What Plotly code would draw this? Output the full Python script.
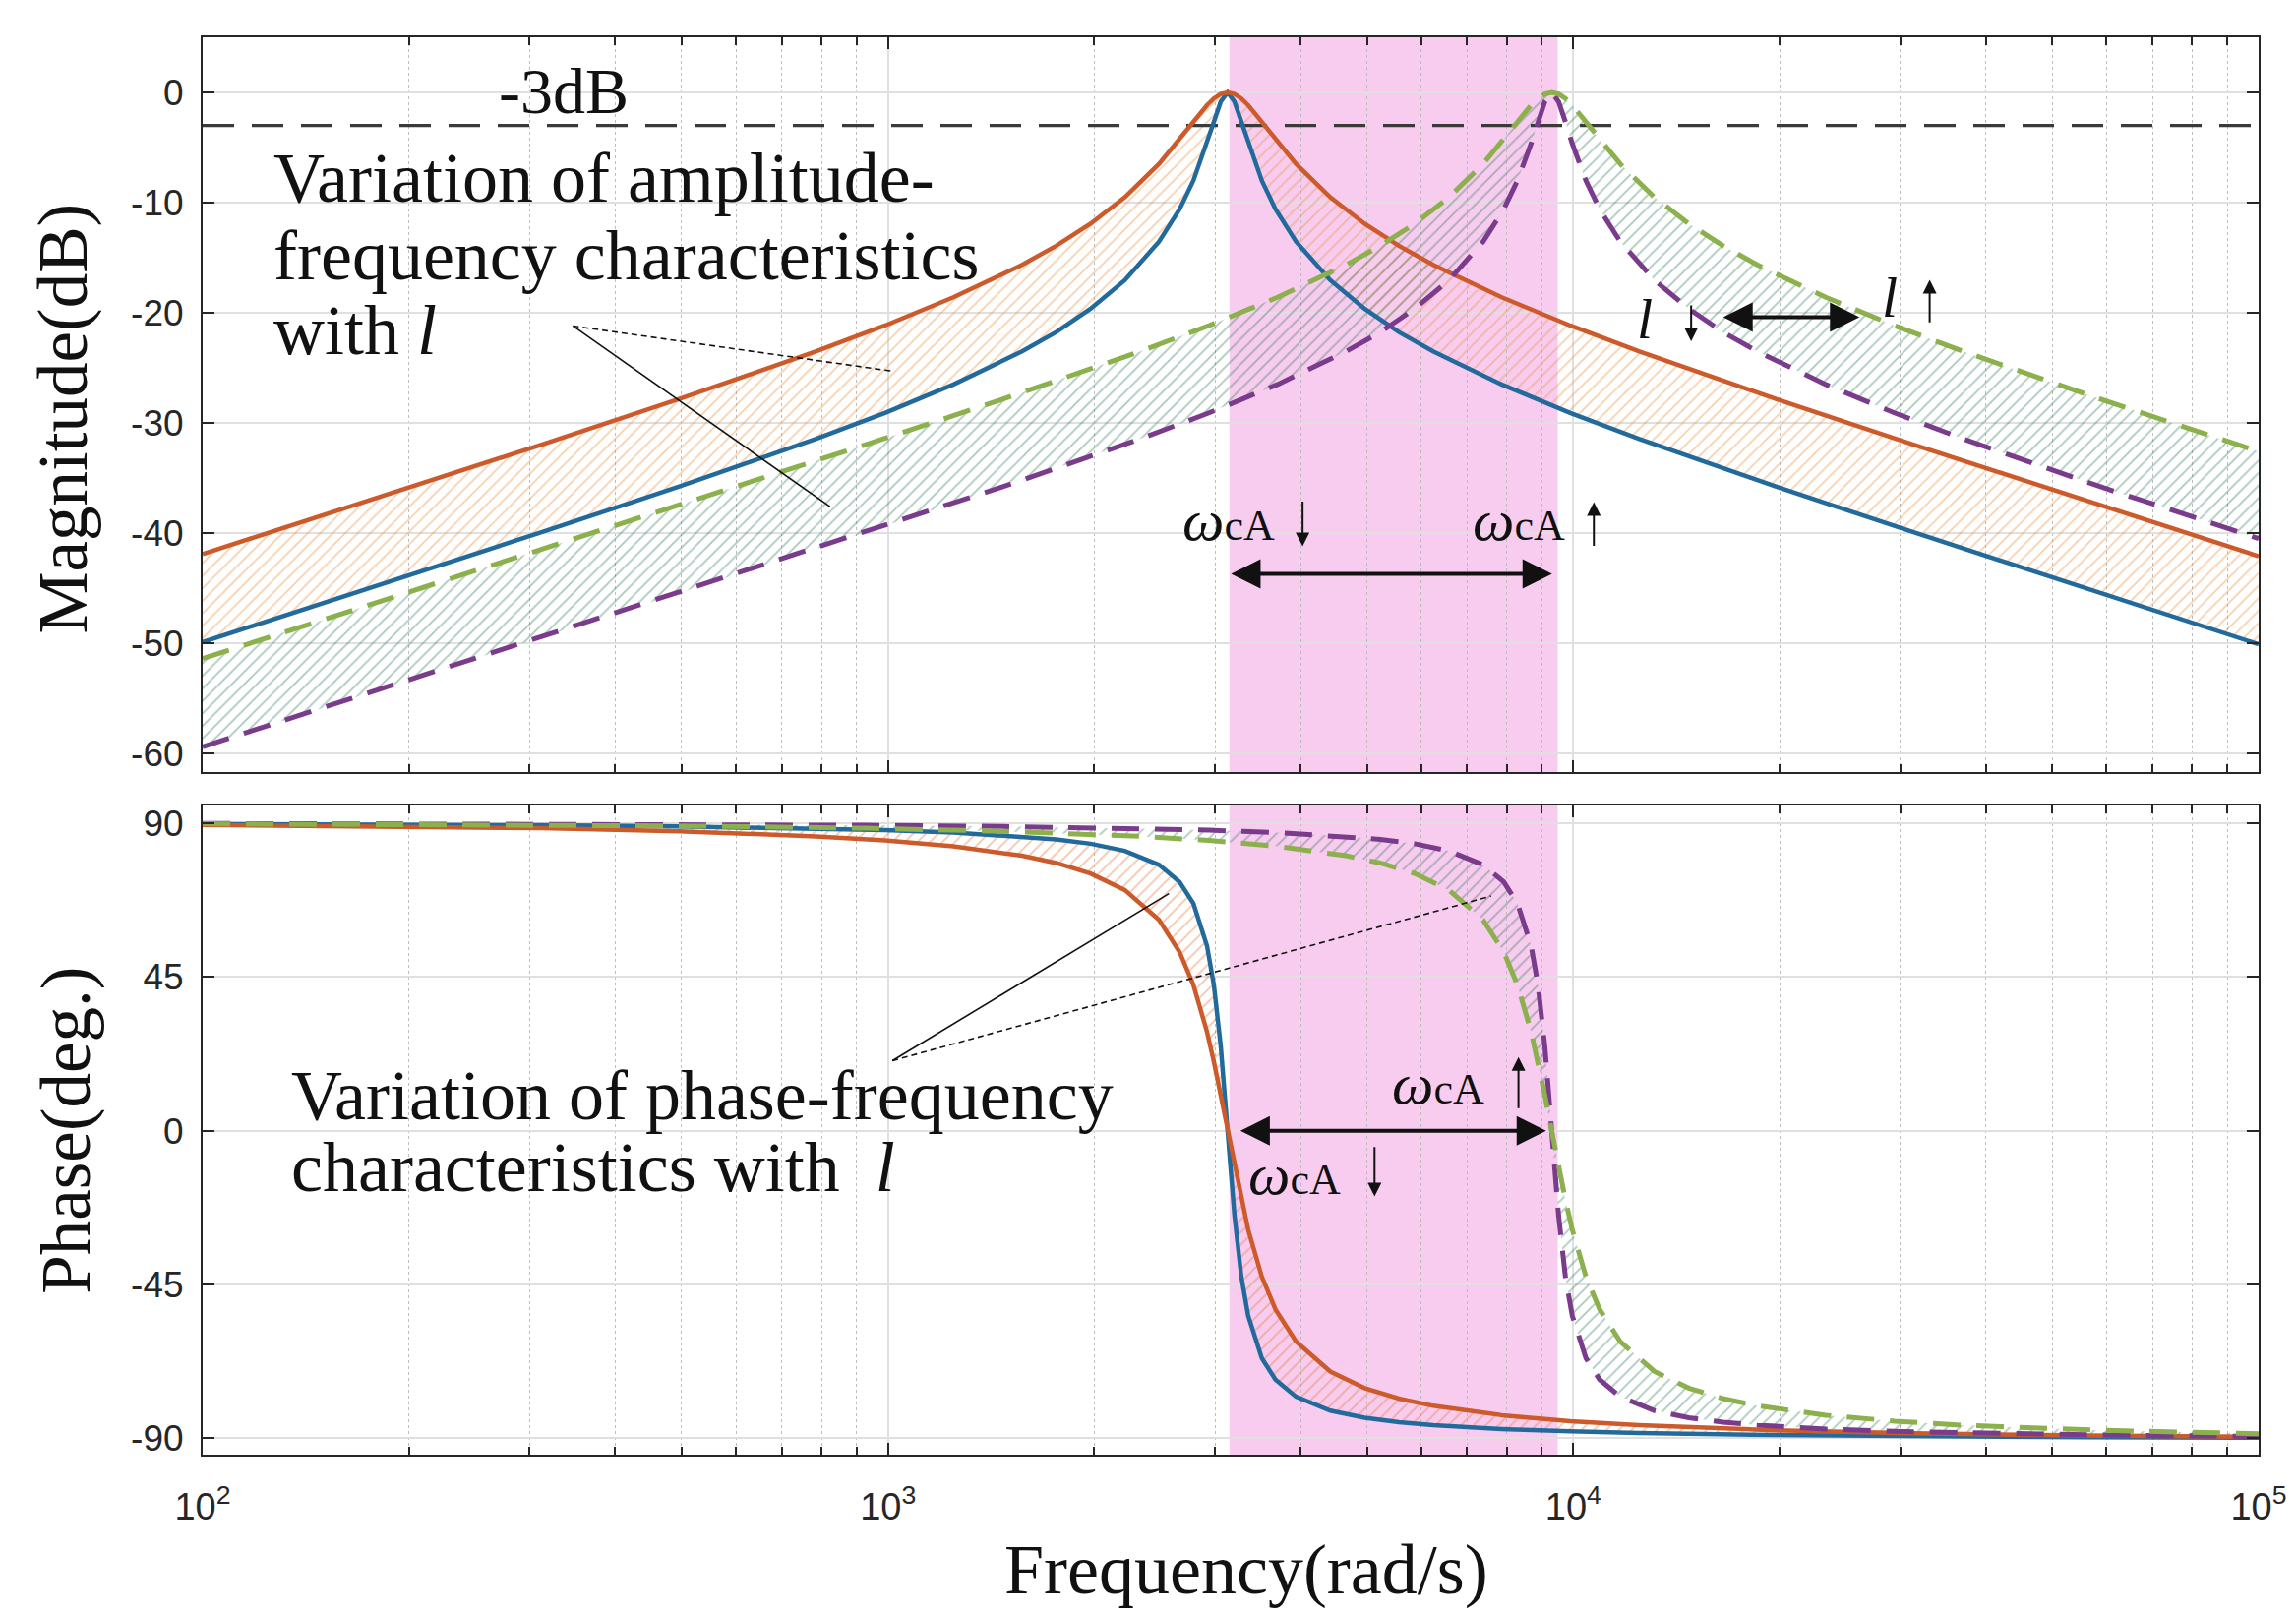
import plotly.graph_objects as go

# ---------------- data ----------------
# resonance at ~3130 rad/s (solid curves)
freq_a = [100, 176, 313, 496, 786, 990, 1246, 1569, 1760, 1975, 2216, 2486, 2664, 2790, 2921, 2989, 3059,
          3130, 3203, 3278, 3354, 3512, 3677, 3940, 4421, 4961, 5566, 6245, 7862, 9898, 12461, 19749, 31300,
          55660, 100000]
orange_mag = [-41.9, -37.0, -31.96, -27.83, -23.50, -21.16, -18.60, -15.65, -13.92, -11.92, -9.52, -6.49, -4.28,
              -2.68, -1.16, -0.55, -0.15, 0, -0.15, -0.55, -1.16, -2.68, -4.28, -6.49, -9.52, -11.92, -13.92,
              -15.65, -18.60, -21.16, -23.50, -27.83, -31.96, -37.0, -42.1]
blue_mag = [-49.9, -44.97, -39.91, -35.78, -31.44, -29.09, -26.51, -23.51, -21.76, -19.64, -17.05, -13.54, -10.60,
            -8.01, -4.64, -2.67, -0.84, 0, -0.84, -2.67, -4.64, -8.01, -10.60, -13.54, -17.05, -19.64, -21.76,
            -23.51, -26.51, -29.09, -31.44, -35.78, -39.91, -44.97, -50.1]
orange_phase = [89.55, 89.19, 88.55, 87.67, 86.17, 84.98, 83.26, 80.50, 78.38, 75.31, 70.47, 61.71, 52.32, 42.71,
                28.94, 20.23, 10.44, 0, -10.44, -20.23, -28.94, -42.71, -52.32, -61.71, -70.47, -75.31, -78.38,
                -80.50, -83.26, -84.98, -86.17, -87.67, -88.55, -89.19, -89.55]
blue_phase = [89.82, 89.68, 89.42, 89.07, 88.46, 87.99, 87.29, 86.17, 85.30, 84.02, 81.92, 77.85, 72.84, 66.57,
              54.12, 42.66, 24.73, 0, -24.73, -42.66, -54.12, -66.57, -72.84, -77.85, -81.92, -84.02, -85.30,
              -86.17, -87.29, -87.99, -88.46, -89.07, -89.42, -89.68, -89.82]

# resonance at ~9300 rad/s (dashed curves)
freq_b = [100, 165, 294, 523, 930, 1474, 2336, 2941, 3702, 4661, 5230, 5868, 6584, 7387, 7916, 8289, 8679, 8881,
          9088, 9300, 9517, 9738, 9965, 10435, 10927, 11708, 13137, 14740, 16538, 18556, 23361, 29409, 37024,
          58679, 100000]
green_mag = [-51.4, -47.04, -42.03, -37.02, -31.96, -27.83, -23.50, -21.16, -18.60, -15.65, -13.92, -11.92, -9.52,
             -6.49, -4.28, -2.68, -1.16, -0.55, -0.15, 0, -0.15, -0.55, -1.16, -2.68, -4.28, -6.49, -9.52, -11.92,
             -13.92, -15.65, -18.60, -21.16, -23.50, -27.83, -32.6]
purple_mag = [-59.4, -55.0, -49.99, -44.97, -39.91, -35.78, -31.44, -29.09, -26.51, -23.51, -21.76, -19.64, -17.05,
              -13.54, -10.60, -8.01, -4.64, -2.67, -0.84, 0, -0.84, -2.67, -4.64, -8.01, -10.60, -13.54, -17.05,
              -19.64, -21.76, -23.51, -26.51, -29.09, -31.44, -35.78, -40.5]
green_phase = [89.85, 89.75, 89.55, 89.19, 88.55, 87.67, 86.17, 84.98, 83.26, 80.50, 78.38, 75.31, 70.47, 61.71,
               52.32, 42.71, 28.94, 20.23, 10.44, 0, -10.44, -20.23, -28.94, -42.71, -52.32, -61.71, -70.47, -75.31,
               -78.38, -80.50, -83.26, -84.98, -86.17, -87.67, -88.66]
purple_phase = [89.94, 89.90, 89.82, 89.68, 89.42, 89.07, 88.46, 87.99, 87.29, 86.17, 85.30, 84.02, 81.92, 77.85,
                72.84, 66.57, 54.12, 42.66, 24.73, 0, -24.73, -42.66, -54.12, -66.57, -72.84, -77.85, -81.92,
                -84.02, -85.30, -86.17, -87.29, -87.99, -88.46, -89.07, -89.46]

line_3db = -3
band_lo, band_hi = 3150, 9490
freq_span = [100, 100000]

mag_ticks = [0, -10, -20, -30, -40, -50, -60]
mag_labels = ["0", "-10", "-20", "-30", "-40", "-50", "-60"]
phase_ticks = [90, 45, 0, -45, -90]
phase_labels = ["90", "45", "0", "-45", "-90"]
x_major = [100, 1000, 10000, 100000]
x_labels = ["10<sup>2</sup>", "10<sup>3</sup>", "10<sup>4</sup>", "10<sup>5</sup>"]
x_minor = [k * 10 ** e for e in (2, 3, 4) for k in range(2, 10)]

# leader lines of the call-outs (frequency, value)
lead_mag_start = (347, -21.2)
lead_mag_ends = [(1015, -25.3, "dash"), (823, -37.6, "solid")]
lead_ph_start = (1015, 20.5)
lead_ph_ends = [(2570, 69.4, "solid"), (7586, 68.7, "dash")]

# ---------------- styling ----------------
C_OR = "#CD5A2B"
C_BL = "#236A9C"
C_GR = "#8BB04C"
C_PU = "#7A3B8C"
PINK = "#F8CCEF"
SERIF = "Liberation Serif, Times New Roman, serif"
SANS = "Liberation Sans, Arial, sans-serif"
AX = "#262626"

fig = go.Figure()


def band(x, y_a, y_b, xa, ya, color):
    fig.add_trace(go.Scatter(x=x, y=y_a, mode="lines", line=dict(width=0), xaxis=xa, yaxis=ya,
                             showlegend=False, hoverinfo="skip"))
    fig.add_trace(go.Scatter(x=x, y=y_b, mode="lines", line=dict(width=0), xaxis=xa, yaxis=ya,
                             fill="tonexty", fillcolor="rgba(0,0,0,0)",
                             fillpattern=dict(shape="/", fgcolor=color, bgcolor="rgba(0,0,0,0)",
                                              size=9, solidity=0.2),
                             showlegend=False, hoverinfo="skip"))


band(freq_a, orange_mag, blue_mag, "x", "y", "rgba(236,150,75,0.9)")
band(freq_b, green_mag, purple_mag, "x", "y", "rgba(45,120,90,0.8)")
band(freq_a, orange_phase, blue_phase, "x2", "y2", "rgba(232,125,65,0.9)")
band(freq_b, green_phase, purple_phase, "x2", "y2", "rgba(45,120,90,0.8)")

# -3 dB line
fig.add_trace(go.Scatter(x=freq_span, y=[line_3db, line_3db], mode="lines",
                         line=dict(color="#3A3A3A", width=3.2, dash="32px,18px"),
                         xaxis="x", yaxis="y", showlegend=False, hoverinfo="skip"))


def curve(x, y, xa, ya, color, dash=None):
    fig.add_trace(go.Scatter(x=x, y=y, mode="lines", xaxis=xa, yaxis=ya, showlegend=False,
                             line=dict(color=color, width=4.5 if dash is None else 5, dash=dash or "solid")))


DASH = "28px,16px"
curve(freq_a, blue_mag, "x", "y", C_BL)
curve(freq_a, orange_mag, "x", "y", C_OR)
curve(freq_b, purple_mag, "x", "y", C_PU, DASH)
curve(freq_b, green_mag, "x", "y", C_GR, DASH)
curve(freq_a, blue_phase, "x2", "y2", C_BL)
curve(freq_a, orange_phase, "x2", "y2", C_OR)
curve(freq_b, purple_phase, "x2", "y2", C_PU, DASH)
curve(freq_b, green_phase, "x2", "y2", C_GR, DASH)

# leader lines
for (start, ends, xa, ya) in [(lead_mag_start, lead_mag_ends, "x", "y"),
                              (lead_ph_start, lead_ph_ends, "x2", "y2")]:
    for ex, ey, ds in ends:
        fig.add_trace(go.Scatter(x=[start[0], ex], y=[start[1], ey], mode="lines", xaxis=xa, yaxis=ya,
                                 line=dict(color="#111111", width=1.6, dash="6px,4px" if ds == "dash" else "solid"),
                                 showlegend=False, hoverinfo="skip"))

# pink band (below the grid)
shapes = []
for xr, yr in [("x", "y domain"), ("x2", "y2 domain")]:
    shapes.append(dict(type="rect", xref=xr, yref=yr, x0=band_lo, x1=band_hi, y0=0, y1=1,
                       fillcolor=PINK, line=dict(width=0), layer="below"))

# ---------------- annotations ----------------
ann = []


def txt(text, x, y, xref, yref, size=72, xanchor="left", angle=0, yanchor="middle"):
    ann.append(dict(text=text, x=x, y=y, xref=xref, yref=yref, showarrow=False, xanchor=xanchor,
                    yanchor=yanchor, textangle=angle, font=dict(family=SERIF, size=size, color="#111111")))


def arrow(x_head, y_head, x_tail, y_tail, xr, yr, double=False):
    d = dict(x=x_head, y=y_head, ax=x_tail, ay=y_tail, xref=xr, yref=yr, axref=xr, ayref=yr, text="",
             showarrow=True, arrowcolor="#111111")
    if double:
        d.update(arrowhead=2, arrowsize=1.5, arrowwidth=4, arrowside="end+start",
                 startarrowhead=2, startarrowsize=1.5)
    else:
        d.update(arrowhead=2, arrowsize=1.4, arrowwidth=2)
    ann.append(d)


wca = "<i>ω</i><span style='font-size:44px'>cA</span>"

txt("-3dB", 2.527, 0.15, "x", "y", size=66, xanchor="center")
txt("Variation of amplitude-", 2.1, -7.8, "x", "y")
txt("frequency characteristics", 2.1, -14.8, "x", "y")
txt("with <i>l</i>", 2.1, -21.6, "x", "y")

txt(wca, 3.497, -38.8, "x", "y", size=60, xanchor="center")
arrow(3.605, -41.2, 3.605, -37.0, "x", "y")
txt(wca, 3.921, -38.8, "x", "y", size=60, xanchor="center")
arrow(4.03, -37.2, 4.03, -41.3, "x", "y")
arrow(3.969, -43.7, 3.4985, -43.7, "x", "y", double=True)

txt("<i>l</i>", 4.105, -20.6, "x", "y", size=58, xanchor="center")
arrow(4.172, -22.6, 4.172, -19.2, "x", "y")
arrow(4.4176, -20.4, 4.2166, -20.4, "x", "y", double=True)
txt("<i>l</i>", 4.462, -18.6, "x", "y", size=58, xanchor="center")
arrow(4.52, -17.0, 4.52, -21.0, "x", "y")

txt("Variation of phase-frequency", 2.127, 10.2, "x2", "y2")
txt("characteristics with  <i>l</i>", 2.127, -10.8, "x2", "y2")
arrow(3.9604, 0, 3.512, 0, "x2", "y2", double=True)
txt(wca, 3.803, 13.6, "x2", "y2", size=60, xanchor="center")
arrow(3.92, 21.6, 3.92, 6.2, "x2", "y2")
txt(wca, 3.594, -12.8, "x2", "y2", size=60, xanchor="center")
arrow(3.71, -19.2, 3.71, -4.3, "x2", "y2")

# axis titles
txt("Magnitude(dB)", -0.0679, -29.6, "paper", "y", size=71, xanchor="center", angle=-90)
txt("Phase(deg.)", -0.066, 0, "paper", "y2", size=71, xanchor="center", angle=-90)
txt("Frequency(rad/s)", 0.5077, -0.081, "paper", "paper", size=72, xanchor="center")

common_x = dict(type="log", range=[2, 5], showline=True, linecolor=AX, linewidth=2, mirror="ticks",
                ticks="inside", ticklen=12, tickwidth=2, tickcolor=AX, tickvals=x_major,
                showgrid=True, gridcolor="#E0E0E0", gridwidth=1.5, zeroline=False,
                minor=dict(tickvals=x_minor, ticks="inside", ticklen=8, tickwidth=1.5, tickcolor=AX,
                           showgrid=True, gridcolor="#BDBDBD", griddash="dot", gridwidth=1.2))
common_y = dict(showline=True, linecolor=AX, linewidth=2, mirror="ticks", ticks="inside", ticklen=12,
                tickwidth=2, tickcolor=AX, showgrid=True, gridcolor="#E0E0E0", gridwidth=1.5, zeroline=False,
                tickfont=dict(family=SANS, size=37, color=AX), ticklabelstandoff=10)

fig.update_layout(
    width=2334, height=1638,
    margin=dict(l=198, r=46, t=30, b=167),
    paper_bgcolor="white", plot_bgcolor="white",
    showlegend=False,
    xaxis=dict(**common_x, anchor="y", showticklabels=False),
    xaxis2=dict(**common_x, anchor="y2", ticktext=x_labels, ticklabelstandoff=18,
                tickfont=dict(family=SANS, size=38, color=AX)),
    yaxis=dict(**common_y, domain=[0.4816, 1], anchor="x", range=[-61.7, 5.0], tickvals=mag_ticks,
               ticktext=mag_labels),
    yaxis2=dict(**common_y, domain=[0, 0.458], anchor="x2", range=[-94.8, 95.2], tickvals=phase_ticks,
                ticktext=phase_labels),
    shapes=shapes,
    annotations=ann,
)

fig.write_html("out.html")
